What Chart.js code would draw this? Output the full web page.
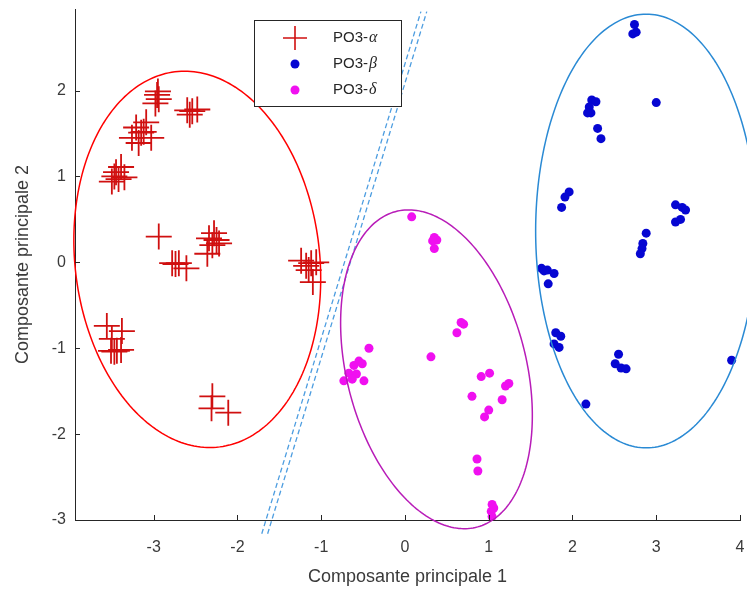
<!DOCTYPE html>
<html>
<head>
<meta charset="utf-8">
<script src="https://cdn.jsdelivr.net/npm/chart.js@4.4.1/dist/chart.umd.min.js"></script>
<style>
html, body { margin: 0; padding: 0; background: #fff; }
#wrap { width: 747px; height: 592px; }
</style>
</head>
<body>
<div id="wrap"><canvas id="pca"></canvas></div>
<script>
// tick labels
const xTicks = [-3, -2, -1, 0, 1, 2, 3, 4];
const yTicks = [-3, -2, -1, 0, 1, 2];

// series names
const seriesNames = ["PO3-", "PO3-", "PO3-"];
const seriesGreek = ["\u03b1", "\u03b2", "\u03b4"];

// PO3-alpha scores [pc1, pc2]
const alphaPts = [
  [-2.96, 1.95], [-2.94, 1.9], [-2.98, 1.85], [-2.95, 1.99],
  [-2.6, 1.77], [-2.54, 1.76], [-2.48, 1.78], [-2.57, 1.72],
  [-3.26, 1.45], [-3.21, 1.57], [-3.15, 1.51], [-3.09, 1.63], [-3.03, 1.45], [-3.18, 1.39], [-3.12, 1.52],
  [-3.5, 0.94], [-3.45, 1.05], [-3.39, 1.11], [-3.35, 0.99], [-3.42, 0.97], [-3.47, 1.0],
  [-2.94, 0.3],
  [-2.78, -0.01], [-2.74, -0.02], [-2.7, -0.01], [-2.61, -0.07],
  [-2.34, 0.28], [-2.28, 0.34], [-2.22, 0.22], [-2.3, 0.2], [-2.25, 0.26], [-2.36, 0.1],
  [-1.24, 0.02], [-1.18, -0.04], [-1.12, -0.01], [-1.06, 0.0], [-1.15, -0.09], [-1.1, -0.23],
  [-3.56, -0.74], [-3.38, -0.8], [-3.5, -0.89],
  [-3.51, -1.03], [-3.47, -1.04], [-3.44, -1.03], [-3.39, -1.02],
  [-2.3, -1.56], [-2.31, -1.7], [-2.11, -1.75]
];

// PO3-beta scores
const betaPts = [
  [2.74, 2.77], [2.76, 2.68], [2.72, 2.66],
  [2.23, 1.89], [2.2, 1.81], [2.22, 1.74], [2.28, 1.87], [2.18, 1.74],
  [3.0, 1.86],
  [2.3, 1.56], [2.34, 1.44],
  [1.96, 0.82], [1.91, 0.76], [1.87, 0.64],
  [3.23, 0.67], [3.31, 0.64], [3.35, 0.61], [3.23, 0.47], [3.29, 0.5],
  [2.88, 0.34], [2.84, 0.22], [2.83, 0.16], [2.81, 0.1],
  [1.63, -0.07], [1.7, -0.09], [1.78, -0.13], [1.71, -0.25], [1.66, -0.1],
  [1.8, -0.82], [1.86, -0.86], [1.78, -0.95], [1.84, -0.99],
  [2.55, -1.07], [2.51, -1.18], [2.58, -1.23], [2.64, -1.24],
  [2.16, -1.65],
  [3.9, -1.14]
];

// PO3-delta scores
const deltaPts = [
  [0.08, 0.53],
  [0.35, 0.29], [0.38, 0.26], [0.35, 0.16], [0.33, 0.25],
  [0.67, -0.7], [0.62, -0.82], [0.7, -0.72],
  [0.31, -1.1],
  [-0.43, -1.0],
  [-0.55, -1.15], [-0.61, -1.2], [-0.51, -1.18], [-0.67, -1.29], [-0.58, -1.3],
  [-0.73, -1.38], [-0.49, -1.38], [-0.63, -1.36],
  [0.91, -1.33], [1.01, -1.29], [1.24, -1.41], [1.2, -1.44], [0.8, -1.56],
  [1.16, -1.6], [1.0, -1.72], [0.95, -1.8],
  [0.86, -2.29], [0.87, -2.43],
  [1.04, -2.82], [1.03, -2.9], [1.04, -2.96], [1.06, -2.86]
];

// separating dashed lines, endpoints in data units
const sepLineA = [[-1.71, -3.16], [0.19, 2.92]];
const sepLineB = [[-1.64, -3.16], [0.26, 2.92]];

// confidence ellipses: centre x, centre y, semi-major, semi-minor, major axis angle (deg)
const ellipseCx = [-2.48, 0.376, 2.88];
const ellipseCy = [0.035, -1.245, 0.365];
const ellipseA = [2.2, 1.9, 2.525];
const ellipseB = [1.46, 1.07, 1.32];
const ellipseAng = [97, 105, 90];
const ellipseColors = ["#ff0000", "#b81cb8", "#2a8ad4"];

const toXY = pts => pts.map(p => ({ x: p[0], y: p[1] }));
const axisColor = "#262626";
const labelColor = "#3a3a3a";
const fontFam = "'Liberation Sans', Arial, sans-serif";

const extras = {
  id: "extras",
  afterDatasetsDraw(chart) {
    const { ctx, scales: { x, y }, chartArea: ca } = chart;
    ctx.save();
    // ellipses
    for (let i = 0; i < ellipseCx.length; i++) {
      const phi = ellipseAng[i] * Math.PI / 180;
      ctx.beginPath();
      for (let k = 0; k <= 240; k++) {
        const t = k / 240 * Math.PI * 2;
        const ex = ellipseCx[i] + ellipseA[i] * Math.cos(t) * Math.cos(phi) - ellipseB[i] * Math.sin(t) * Math.sin(phi);
        const ey = ellipseCy[i] + ellipseA[i] * Math.cos(t) * Math.sin(phi) + ellipseB[i] * Math.sin(t) * Math.cos(phi);
        const px = x.getPixelForValue(ex), py = y.getPixelForValue(ey);
        if (k === 0) ctx.moveTo(px, py); else ctx.lineTo(px, py);
      }
      ctx.strokeStyle = ellipseColors[i];
      ctx.lineWidth = 1.5;
      ctx.stroke();
    }
    // inward ticks
    ctx.strokeStyle = axisColor;
    ctx.lineWidth = 1;
    ctx.beginPath();
    xTicks.forEach(v => {
      const px = Math.round(x.getPixelForValue(v)) + 0.5;
      ctx.moveTo(px, ca.bottom); ctx.lineTo(px, ca.bottom - 5);
    });
    yTicks.forEach(v => {
      const py = Math.round(y.getPixelForValue(v)) + 0.5;
      ctx.moveTo(ca.left, py); ctx.lineTo(ca.left + 5, py);
    });
    ctx.stroke();

    // legend box
    const lx = 254, ly = 20, lw = 147, lh = 86;
    ctx.fillStyle = "#fff";
    ctx.fillRect(lx, ly, lw, lh);
    ctx.strokeStyle = "#262626";
    ctx.lineWidth = 1;
    ctx.strokeRect(lx + 0.5, ly + 0.5, lw, lh);
    const rows = [38, 64, 90];
    const sets = chart.data.datasets;
    for (let i = 0; i < 3; i++) {
      const ds = sets[i];
      const cy = rows[i];
      if (ds.pointStyle === "cross") {
        ctx.strokeStyle = ds.borderColor;
        ctx.lineWidth = 1.6;
        ctx.beginPath();
        ctx.moveTo(283, cy); ctx.lineTo(307, cy);
        ctx.moveTo(295, cy - 12); ctx.lineTo(295, cy + 12);
        ctx.stroke();
      } else {
        ctx.fillStyle = ds.backgroundColor;
        ctx.beginPath();
        ctx.arc(295, cy, 4.5, 0, Math.PI * 2);
        ctx.fill();
      }
      ctx.fillStyle = axisColor;
      ctx.textBaseline = "middle";
      ctx.font = "15px " + fontFam;
      ctx.fillText(seriesNames[i], 333, cy);
      const w = ctx.measureText(seriesNames[i]).width;
      ctx.font = "italic 16px 'Liberation Serif', 'Times New Roman', serif";
      ctx.fillText(seriesGreek[i], 333 + w + 1, cy);
    }
    ctx.restore();
  }
};

new Chart(document.getElementById("pca"), {
  type: "scatter",
  data: {
    datasets: [
      {
        label: "PO3-\u03b1",
        data: toXY(alphaPts),
        pointStyle: "cross",
        pointRadius: 13,
        borderColor: "#d01010",
        borderWidth: 1.8,
        backgroundColor: "#d01010"
      },
      {
        label: "PO3-\u03b2",
        data: toXY(betaPts),
        pointStyle: "circle",
        pointRadius: 4.5,
        borderWidth: 0,
        backgroundColor: "#0606d2"
      },
      {
        label: "PO3-\u03b4",
        data: toXY(deltaPts),
        pointStyle: "circle",
        pointRadius: 4.5,
        borderWidth: 0,
        backgroundColor: "#f010f0"
      },
      {
        type: "line",
        data: toXY(sepLineA),
        showLine: true,
        borderColor: "#4d9de0",
        borderWidth: 1.3,
        borderDash: [5, 3],
        pointRadius: 0,
        clip: false
      },
      {
        type: "line",
        data: toXY(sepLineB),
        showLine: true,
        borderColor: "#4d9de0",
        borderWidth: 1.3,
        borderDash: [5, 3],
        pointRadius: 0,
        clip: false
      }
    ]
  },
  options: {
    responsive: true,
    maintainAspectRatio: false,
    animation: false,
    layout: { autoPadding: false, padding: { top: 9, right: 7, left: 0, bottom: 0 } },
    plugins: {
      legend: { display: false },
      tooltip: { enabled: false }
    },
    scales: {
      x: {
        type: "linear",
        min: -3.94,
        max: 4,
        grid: { display: false, drawTicks: false },
        border: { display: true, color: axisColor, width: 1 },
        ticks: { color: labelColor, font: { size: 16, family: fontFam }, padding: 18 },
        title: {
          display: true,
          text: "Composante principale 1",
          color: labelColor,
          font: { size: 18, family: fontFam },
          padding: { top: 0, bottom: 4 }
        },
        afterBuildTicks: s => { s.ticks = xTicks.map(v => ({ value: v })); },
        afterFit: s => { s.height = 72; s.paddingLeft = 0; s.paddingRight = 0; }
      },
      y: {
        type: "linear",
        min: -3,
        max: 2.95,
        grid: { display: false, drawTicks: false },
        border: { display: true, color: axisColor, width: 1 },
        ticks: { color: labelColor, font: { size: 16, family: fontFam }, padding: 9 },
        title: {
          display: true,
          text: "Composante principale 2",
          color: labelColor,
          font: { size: 18, family: fontFam },
          padding: { top: 12, bottom: 0 }
        },
        afterBuildTicks: s => { s.ticks = yTicks.map(v => ({ value: v })); },
        afterFit: s => { s.width = 75; s.paddingTop = 0; s.paddingBottom = 0; }
      }
    }
  },
  plugins: [extras]
});
</script>
</body>
</html>
